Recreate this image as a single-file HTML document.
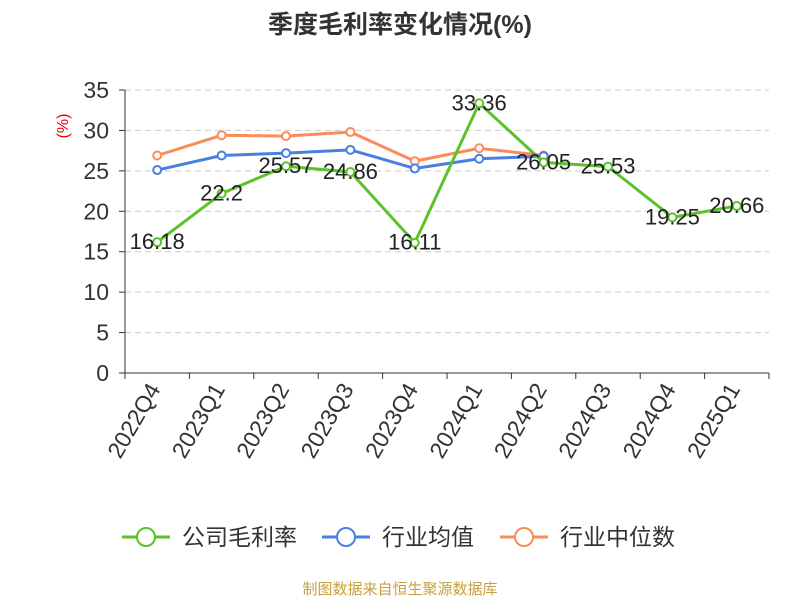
<!DOCTYPE html>
<html><head><meta charset="utf-8"><style>
body{margin:0;background:#fff;}
svg text{font-family:"Liberation Sans","Noto Sans CJK SC",sans-serif;}
</style></head><body>
<svg width="800" height="600">
<text x="400" y="33" text-anchor="middle" font-size="25" font-weight="bold" fill="#333">季度毛利率变化情况(%)</text>
<text transform="translate(68,126) rotate(-90)" text-anchor="middle" font-size="16" fill="#e00">(%)</text>
<g id="grid"></g><g id="axes"></g><g id="series"></g><g id="labels"></g>
<g>
 <g><line x1="122" y1="537" x2="170" y2="537" stroke="#5cc22a" stroke-width="3"/><circle cx="146" cy="537" r="9" fill="#fff" stroke="#5cc22a" stroke-width="2"/><text x="182" y="545" font-size="23" fill="#333">公司毛利率</text></g>
 <g><line x1="322" y1="537" x2="370" y2="537" stroke="#4a7fe0" stroke-width="3"/><circle cx="346" cy="537" r="9" fill="#fff" stroke="#4a7fe0" stroke-width="2"/><text x="382" y="545" font-size="23" fill="#333">行业均值</text></g>
 <g><line x1="500" y1="537" x2="548" y2="537" stroke="#fa8c5a" stroke-width="3"/><circle cx="524" cy="537" r="9" fill="#fff" stroke="#fa8c5a" stroke-width="2"/><text x="560" y="545" font-size="23" fill="#333">行业中位数</text></g>
</g>
<text x="400" y="594" text-anchor="middle" font-size="15" fill="#c8a040">制图数据来自恒生聚源数据库</text>
</svg>
<script>
const categories=["2022Q4","2023Q1","2023Q2","2023Q3","2023Q4","2024Q1","2024Q2","2024Q3","2024Q4","2025Q1"];
const grossMargin=[16.18,22.2,25.57,24.86,16.11,33.36,26.05,25.53,19.25,20.66];
const industryAvg=[25.1,26.9,27.2,27.6,25.3,26.5,26.8];
const industryMedian=[26.9,29.4,29.3,29.8,26.2,27.8,26.9];
const yTicks=[0,5,10,15,20,25,30,35];
const NS="http://www.w3.org/2000/svg";
const L=125,R=769,T=90,B=373,ymax=35;
const bw=(R-L)/categories.length;
const x=i=>L+bw*(i+0.5);
const y=v=>B-(v/ymax)*(B-T);
function mk(tag,attrs,parent){const e=document.createElementNS(NS,tag);for(const k in attrs)e.setAttribute(k,attrs[k]);document.getElementById(parent).appendChild(e);return e;}
yTicks.forEach(t=>{
 if(t>0){const g=mk('line',{x1:L,x2:R,y1:y(t),y2:y(t),stroke:'#ccc','stroke-dasharray':'6,4'},'grid');
 
 }
 const tx=mk('text',{x:L-16,y:y(t)+8,'text-anchor':'end','font-size':'23',fill:'#333'},'axes');tx.textContent=t;
 
 
 mk('line',{x1:L-6,x2:L,y1:y(t),y2:y(t),stroke:'#333'},'axes');
});
const ya=mk('line',{x1:L,x2:L,y1:T,y2:B,stroke:'#333'},'axes');


const xa=mk('line',{x1:L,x2:R,y1:B,y2:B,stroke:'#333'},'axes');


for(let i=0;i<=categories.length;i++)mk('line',{x1:L+bw*i,x2:L+bw*i,y1:B,y2:B+6,stroke:'#333'},'axes');
categories.forEach((c,i)=>{
 const t=mk('text',{transform:`translate(${x(i)+4},${B+16}) rotate(-60)`,'text-anchor':'end','font-size':'23',fill:'#333'},'axes');t.textContent=c;
 
 
});
function series(vals,color,name){
 const p=mk('polyline',{points:vals.map((v,i)=>x(i)+','+y(v)).join(' '),fill:'none',stroke:color,'stroke-width':3},'series');
 
 
 vals.forEach((v,i)=>{const c=mk('circle',{cx:x(i),cy:y(v),r:4,fill:'#fff',stroke:color,'stroke-width':2},'series');
 
 });
}
series(industryMedian,'#fa8c5a','industry-median');
series(industryAvg,'#4a7fe0','industry-average');
series(grossMargin,'#5cc22a','gross-margin');
grossMargin.forEach((v,i)=>{
 const t=mk('text',{x:x(i),y:y(v)+7,'text-anchor':'middle','font-size':'22',fill:'#222'},'labels');t.textContent=v;
 
 
});
</script>
</body></html>
